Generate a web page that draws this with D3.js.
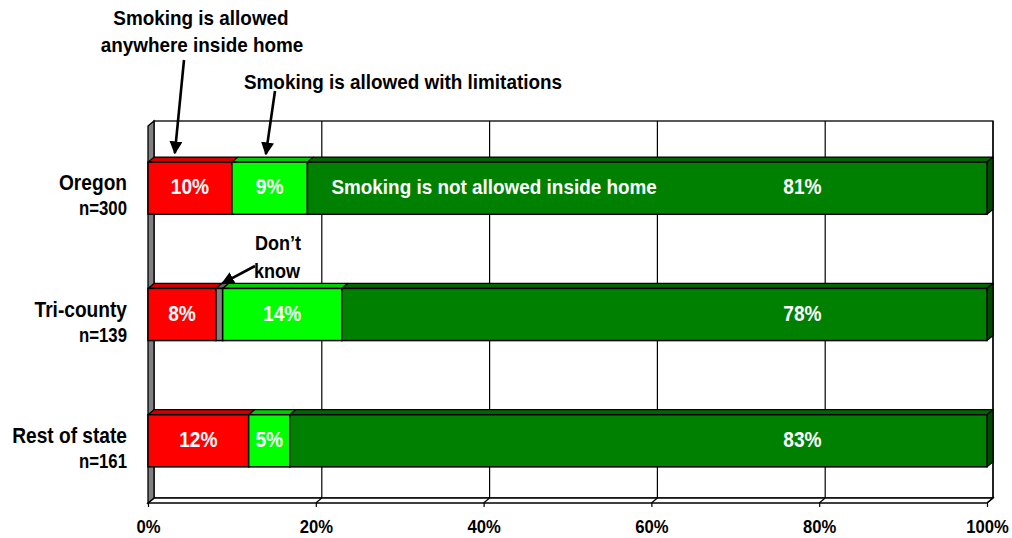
<!DOCTYPE html>
<html>
<head>
<meta charset="utf-8">
<script src="https://cdn.jsdelivr.net/npm/d3@7/dist/d3.min.js"></script>
<style>
  html, body { margin: 0; padding: 0; background: #ffffff; }
  svg { display: block; font-family: "Liberation Sans", Arial, sans-serif; font-weight: bold; }
</style>
</head>
<body>
<svg id="chart" width="1012" height="538"></svg>
<script>
// ---------------- data ----------------
const categories = ["Oregon", "Tri-county", "Rest of state"];
const sampleSizes = ["n=300", "n=139", "n=161"];
const seriesNames = ["Smoking is allowed anywhere inside home", "Don\u2019t know", "Smoking is allowed with limitations", "Smoking is not allowed inside home"];
const allowedAnywhere = [10, 8.1, 12];
const dontKnow = [0, 0.8, 0];
const withLimitations = [9, 14.2, 4.9];
const notAllowed = [81, 76.9, 83.1];
const labelsAnywhere = ["10%", "8%", "12%"];
const labelsDontKnow = ["", "", ""];
const labelsLimitations = ["9%", "14%", "5%"];
const labelsNotAllowed = ["81%", "78%", "83%"];
const xTicks = [0, 20, 40, 60, 80, 100];
const seriesColors = ["#ff0000", "#808080", "#00ff00", "#008000"];

(function () {
// ---------------- layout ----------------
const svg = d3.select("#chart");
const pLeft = 148, pRight = 987, pTop = 126, pBottom = 503;
const dx = 6, dy = 5;

const x = d3.scaleLinear().domain([0, 100]).range([pLeft, pRight]);
const y = d3.scaleBand().domain(categories).range([pTop, pBottom])
  .paddingInner(0.587).paddingOuter(0.286);

function addText(g, str, px, py, o) {
  return g.append("text")
    .attr("transform", `translate(${px},${py}) scale(${o.sx || 0.92},1)`)
    .attr("text-anchor", o.anchor || "middle")
    .attr("font-size", o.size)
    .attr("fill", o.fill || "#000")
    .text(str);
}

// ---------------- walls ----------------
const walls = svg.append("g");
walls.append("rect")
  .attr("x", pLeft + dx).attr("y", pTop - dy)
  .attr("width", pRight - pLeft).attr("height", pBottom - pTop)
  .attr("fill", "#fff").attr("stroke", "#000").attr("stroke-width", 1.3);
walls.selectAll("line.grid").data(xTicks.slice(1)).join("line")
  .attr("class", "grid")
  .attr("x1", d => x(d) + dx).attr("x2", d => x(d) + dx)
  .attr("y1", pTop - dy).attr("y2", pBottom - dy)
  .attr("stroke", "#000").attr("stroke-width", 1.2);
walls.append("path")
  .attr("d", `M${pLeft},${pBottom} L${pRight},${pBottom} L${pRight + dx},${pBottom - dy} L${pLeft + dx},${pBottom - dy} Z`)
  .attr("fill", "#fff").attr("stroke", "#000").attr("stroke-width", 1.3);
walls.selectAll("line.floor").data(xTicks).join("line")
  .attr("class", "floor")
  .attr("x1", d => x(d)).attr("x2", d => x(d) + dx)
  .attr("y1", pBottom).attr("y2", pBottom - dy)
  .attr("stroke", "#000").attr("stroke-width", 1.2);
walls.append("path")
  .attr("d", `M${pLeft},${pTop} L${pLeft + dx},${pTop - dy} L${pLeft + dx},${pBottom - dy} L${pLeft},${pBottom} Z`)
  .attr("fill", "#808080").attr("stroke", "#000").attr("stroke-width", 1.3);

// ---------------- bars ----------------
const seriesValues = [allowedAnywhere, dontKnow, withLimitations, notAllowed];
const seriesLabels = [labelsAnywhere, labelsDontKnow, labelsLimitations, labelsNotAllowed];
const segments = [];
categories.forEach((c, i) => {
  let acc = 0;
  seriesValues.forEach((vals, s) => {
    const v = vals[i];
    if (v > 0) segments.push({ cat: c, i, s, x0: acc, x1: acc + v, label: seriesLabels[s][i], last: s === seriesValues.length - 1 });
    acc += v;
  });
});

const bars = svg.append("g");
const segG = bars.selectAll("g.seg").data(segments).join("g").attr("class", "seg");
segG.append("path")
  .attr("d", d => {
    const a = x(d.x0), b = x(d.x1), t = y(d.cat);
    return `M${a},${t} L${b},${t} L${b + dx},${t - dy} L${a + dx},${t - dy} Z`;
  })
  .attr("fill", d => d3.color(seriesColors[d.s]).darker(0.6))
  .attr("stroke", "#000").attr("stroke-width", 1.2).attr("stroke-linejoin", "round");
segG.filter(d => d.last).append("path")
  .attr("d", d => {
    const b = x(d.x1), t = y(d.cat), h = y.bandwidth();
    return `M${b},${t} L${b + dx},${t - dy} L${b + dx},${t + h - dy} L${b},${t + h} Z`;
  })
  .attr("fill", d => d3.color(seriesColors[d.s]).darker(1.5))
  .attr("stroke", "#000").attr("stroke-width", 1.2).attr("stroke-linejoin", "round");
segG.append("rect")
  .attr("x", d => x(d.x0)).attr("y", d => y(d.cat))
  .attr("width", d => x(d.x1) - x(d.x0)).attr("height", y.bandwidth())
  .attr("fill", d => seriesColors[d.s])
  .attr("stroke", "#000").attr("stroke-width", 1.5);

segments.forEach(d => {
  if (!d.label) return;
  const cy = y(d.cat) + y.bandwidth() / 2 + 6;
  const px = d.last ? x(78) : (x(d.x0) + x(d.x1)) / 2;
  addText(bars, d.label, px, cy, { size: 22.5, fill: "#fff", sx: 0.85 });
});
{
  const d = segments.find(s => s.i === 0 && s.last);
  addText(bars, seriesNames[3], x(d.x0) + 24, y(d.cat) + y.bandwidth() / 2 + 6,
    { size: 21, fill: "#fff", anchor: "start", sx: 0.9 });
}

// ---------------- category labels ----------------
const catG = svg.append("g");
categories.forEach((c, i) => {
  const cy = y(c) + y.bandwidth() / 2;
  addText(catG, c, 127, cy + 2, { size: 22, anchor: "end", sx: 0.87 });
  addText(catG, sampleSizes[i], 127, cy + 27, { size: 19.5, anchor: "end", sx: 0.86 });
});

// ---------------- x axis ----------------
const axis = svg.append("g").attr("transform", `translate(0,${pBottom})`)
  .call(d3.axisBottom(x).tickValues(xTicks).tickFormat(d => d + "%").tickSize(4).tickPadding(0));
axis.select(".domain").remove();
axis.selectAll(".tick line").attr("stroke", "#000").attr("stroke-width", 1.2);
axis.selectAll(".tick text")
  .attr("y", 30).attr("dy", 0)
  .attr("font-size", 18.5).attr("font-weight", "bold")
  .attr("font-family", "Liberation Sans, Arial, sans-serif")
  .attr("fill", "#000")
  .attr("transform", "scale(0.9,1)");

// ---------------- annotations ----------------
const ann = svg.append("g");
svg.append("defs").append("marker")
  .attr("id", "arrow").attr("viewBox", "0 0 10 10")
  .attr("refX", 9).attr("refY", 5)
  .attr("markerWidth", 5).attr("markerHeight", 5)
  .attr("markerUnits", "strokeWidth")
  .attr("orient", "auto")
  .append("path").attr("d", "M0,0 L10,5 L0,10 Z").attr("fill", "#000");

function arrow(x1, y1, x2, y2) {
  ann.append("line")
    .attr("x1", x1).attr("y1", y1).attr("x2", x2).attr("y2", y2)
    .attr("stroke", "#000").attr("stroke-width", 2.6)
    .attr("marker-end", "url(#arrow)");
}
const oregonTop = y(categories[0]);
const triTop = y(categories[1]);

addText(ann, "Smoking is allowed", 201, 25, { size: 21, sx: 0.9 });
addText(ann, "anywhere inside home", 202, 52, { size: 21, sx: 0.9 });
arrow(184, 60, x(allowedAnywhere[0] * 0.32), oregonTop - 9);

addText(ann, "Smoking is allowed with limitations", 403, 89, { size: 21, sx: 0.9 });
arrow(275, 91, x(allowedAnywhere[0] + withLimitations[0] * 0.45), oregonTop - 8);

addText(ann, "Don\u2019t", 278, 250, { size: 20.5, sx: 0.88 });
addText(ann, "know", 277, 278, { size: 20.5, sx: 0.88 });
arrow(255, 266, x(allowedAnywhere[1] + dontKnow[1] / 2) + 3, triTop - 5);
})();
</script>
</body>
</html>
